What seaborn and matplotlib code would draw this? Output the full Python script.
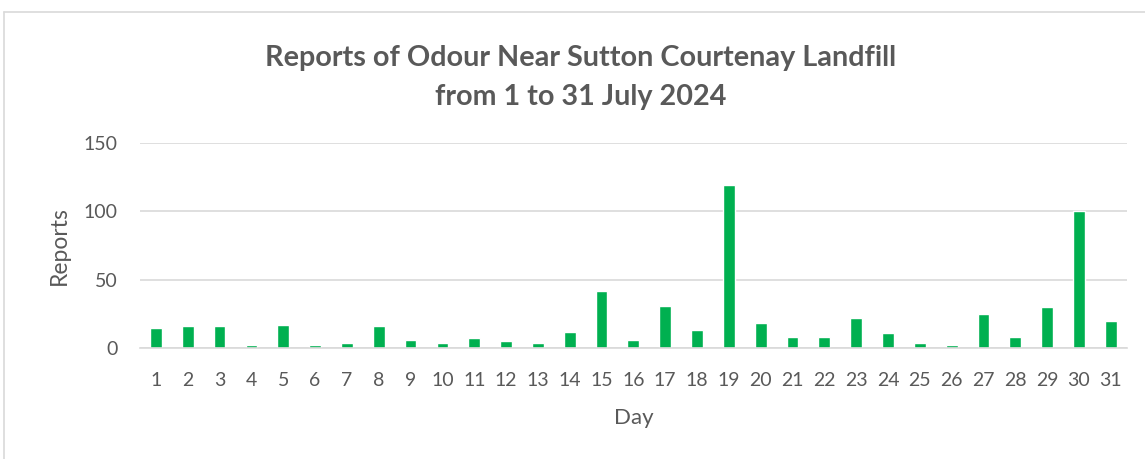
import numpy as np
import pandas as pd
import matplotlib
matplotlib.use("Agg")
import matplotlib.pyplot as plt
import seaborn as sns

# =========================================
# DATA
# =========================================

days = [str(d) for d in range(1, 32)]
reports = [15, 16, 16, 2, 17, 2, 4, 16, 6, 4,
           7, 5, 4, 12, 42, 6, 31, 13, 119, 18,
           8, 8, 22, 11, 4, 2, 25, 8, 30, 100, 20]
y_ticks = [0, 50, 100, 150]

title = "Reports of Odour Near Sutton Courtenay Landfill\nfrom 1 to 31 July 2024"

df = pd.DataFrame({"Day": days, "Reports": reports})

# =========================================
# STYLE
# =========================================

sns.set_style("white")
plt.rcParams["font.family"] = ["Lato", "DejaVu Sans"]
text_gray = "#595959"
grid_gray = "#D9D9D9"

fig = plt.figure(figsize=(11.45, 4.59), dpi=100)
ax = fig.add_axes([0.1223, 0.2418, 0.8617, 0.4467])

sns.barplot(
    data=df,
    x="Day",
    y="Reports",
    color="#00B050",
    saturation=1,
    width=0.37,
    ax=ax,
)

ax.set_ylim(0, 150)
ax.set_yticks(y_ticks)
ax.set_xlim(-0.5, len(days) - 0.5)

ax.grid(axis="y", color=grid_gray, linewidth=1.2)
ax.set_axisbelow(True)
for s in ["top", "right", "left"]:
    ax.spines[s].set_visible(False)
ax.spines["bottom"].set_color(grid_gray)
ax.spines["bottom"].set_linewidth(1.2)

ax.tick_params(axis="both", length=0, labelsize=14, labelcolor=text_gray)
ax.tick_params(axis="y", pad=16)
ax.tick_params(axis="x", pad=17)
ax.set_xlabel("Day", fontsize=16, color=text_gray, labelpad=14)
ax.set_ylabel("Reports", fontsize=16.5, color=text_gray, labelpad=10)

fig.suptitle(title, x=0.507, y=0.902, fontsize=20.7, fontweight="bold",
             color=text_gray, linespacing=1.6)

# moldura do gráfico
fig.add_artist(plt.Line2D([3.5 / 1145, 3.5 / 1145], [0, 1 - 12 / 459],
                          transform=fig.transFigure, color=grid_gray, linewidth=1.2))
fig.add_artist(plt.Line2D([3.5 / 1145, 1], [1 - 12 / 459, 1 - 12 / 459],
                          transform=fig.transFigure, color=grid_gray, linewidth=1.2))

fig.savefig("out.png", dpi=100)
